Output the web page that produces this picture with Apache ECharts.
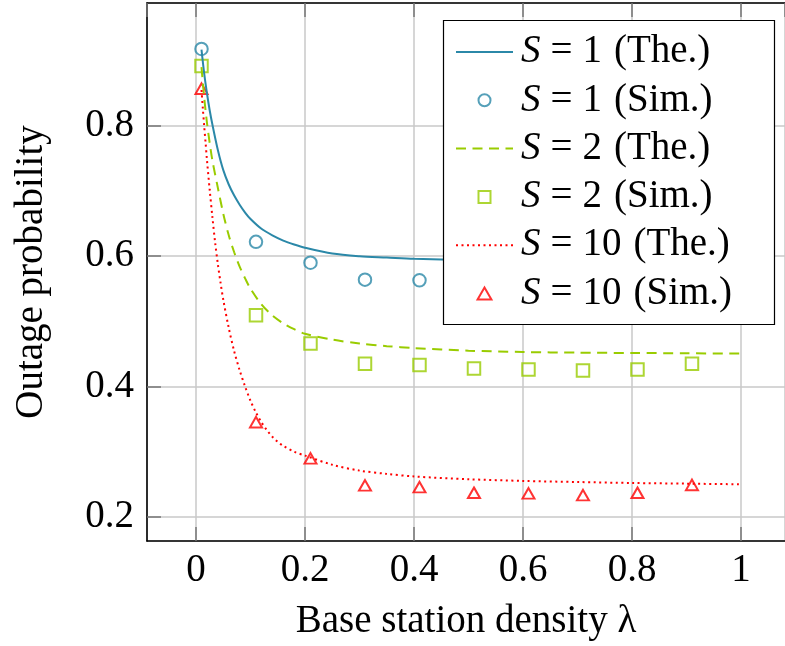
<!DOCTYPE html>
<html>
<head>
<meta charset="utf-8">
<script src="https://cdn.jsdelivr.net/npm/echarts@6/dist/echarts.min.js"></script>
<style>
html,body{margin:0;padding:0;background:#fff;}
#chart{width:785px;height:646px;}
</style>
</head>
<body>
<div id="chart"></div>
<script>
// ---- data ----
const seriesNames = ['S = 1 (The.)', 'S = 1 (Sim.)', 'S = 2 (The.)', 'S = 2 (Sim.)', 'S = 10 (The.)', 'S = 10 (Sim.)'];

const theoryS1X = [0.01, 0.015, 0.02, 0.025, 0.03, 0.04, 0.05, 0.06, 0.07, 0.08, 0.09, 0.1, 0.12, 0.14, 0.16, 0.18, 0.2, 0.25, 0.3, 0.35, 0.4, 0.5, 0.6, 0.7, 0.8, 0.9, 1.0];
const theoryS1Y = [0.917, 0.880, 0.850, 0.824, 0.802, 0.763, 0.732, 0.710, 0.693, 0.679, 0.667, 0.657, 0.642, 0.632, 0.624, 0.618, 0.613, 0.604, 0.600, 0.598, 0.596, 0.594, 0.592, 0.591, 0.590, 0.5895, 0.589];

const theoryS2X = [0.01, 0.015, 0.02, 0.025, 0.03, 0.04, 0.05, 0.06, 0.07, 0.08, 0.09, 0.1, 0.12, 0.14, 0.16, 0.18, 0.2, 0.25, 0.3, 0.35, 0.4, 0.5, 0.6, 0.7, 0.8, 0.9, 1.0];
const theoryS2Y = [0.890, 0.843, 0.805, 0.774, 0.747, 0.705, 0.665, 0.632, 0.606, 0.584, 0.566, 0.550, 0.526, 0.509, 0.497, 0.488, 0.481, 0.472, 0.466, 0.462, 0.459, 0.455, 0.453, 0.452, 0.4515, 0.451, 0.4505];

const theoryS10X = [0.01, 0.0125, 0.015, 0.0175, 0.02, 0.025, 0.03, 0.035, 0.04, 0.045, 0.05, 0.06, 0.07, 0.08, 0.09, 0.1, 0.11, 0.12, 0.13, 0.14, 0.15, 0.16, 0.18, 0.2, 0.25, 0.3, 0.35, 0.4, 0.5, 0.6, 0.7, 0.8, 0.9, 1.0];
const theoryS10Y = [0.855, 0.826, 0.799, 0.774, 0.748, 0.702, 0.660, 0.621, 0.588, 0.559, 0.533, 0.490, 0.454, 0.425, 0.400, 0.378, 0.360, 0.345, 0.333, 0.323, 0.315, 0.309, 0.300, 0.294, 0.280, 0.271, 0.266, 0.262, 0.2578, 0.2552, 0.2535, 0.252, 0.251, 0.250];

const simX = [0.01, 0.11, 0.21, 0.31, 0.41, 0.51, 0.61, 0.71, 0.81, 0.91];
const simS1Y = [0.918, 0.622, 0.590, 0.564, 0.563, 0.562, 0.561, 0.560, 0.562, 0.566];
const simS2Y = [0.892, 0.5095, 0.466, 0.435, 0.433, 0.4276, 0.426, 0.4245, 0.426, 0.435];
const simS10Y = [0.857, 0.3453, 0.2897, 0.2483, 0.2457, 0.237, 0.236, 0.2334, 0.237, 0.249];

const xTickValues = [0, 0.2, 0.4, 0.6, 0.8, 1];
const yTickValues = [0.2, 0.4, 0.6, 0.8];
const xAxisTitle = 'Base station density λ';
const yAxisTitle = 'Outage probability';

// ---- styling ----
const BLUE = '#2b88a8', GREEN = '#99cc00', RED = '#ff0000';
const FONT = '"Liberation Serif", "DejaVu Serif", serif';
const FS = 39;
const NOFILL = 'rgba(255,255,255,0)';

function zip(xs, ys) { return xs.map((x, i) => [x, ys[i]]); }

const X_MIN = -0.09, X_MAX = 1.0807, Y_MIN = 0.163, Y_MAX = 0.9885;

const tickStyle = { inside: true, length: 14, lineStyle: { color: '#777', width: 1.5 } };
const frameLine = { show: true, onZero: false, lineStyle: { color: '#000', width: 1.6 } };
const gridLine = { show: true, lineStyle: { color: '#c8c8c8', width: 1.5 } };

const chart = echarts.init(document.getElementById('chart'), null, { renderer: 'canvas' });

const hiddenSymbol = { color: NOFILL, borderColor: NOFILL, borderWidth: 0 };

// legend label: italic S, math-like spacing around '='
function legendLabel(name) {
  const m = name.match(/^S = (\d+) (\(.*\))$/);
  if (!m) return name;
  return '{i|S}{eq|=}{n|' + m[1] + '}{p|' + m[2] + '}';
}
const richBase = { fontFamily: FONT, fontSize: FS, lineHeight: 40, color: '#000' };

const option = {
  animation: false,
  backgroundColor: '#fff',
  textStyle: { fontFamily: FONT },
  grid: { left: 147, top: 3, right: 0, bottom: 104.5, containLabel: false },
  xAxis: [
    {
      type: 'value', min: X_MIN, max: X_MAX, position: 'bottom',
      axisLine: frameLine,
      axisTick: Object.assign({ show: true }, tickStyle),
      splitLine: gridLine,
      axisLabel: {
        show: true, margin: 10, color: '#000', fontFamily: FONT, fontSize: FS,
        showMinLabel: false, showMaxLabel: false,
        formatter: v => (xTickValues.some(t => Math.abs(t - v) < 1e-6) ? String(+v.toFixed(1)) : '')
      },
      name: xAxisTitle, nameLocation: 'middle', nameGap: 61,
      nameTextStyle: { color: '#000', fontFamily: FONT, fontSize: FS }
    },
    {
      type: 'value', min: X_MIN, max: X_MAX, position: 'top',
      axisLine: frameLine,
      axisTick: Object.assign({ show: true }, tickStyle),
      splitLine: { show: false },
      axisLabel: { show: false }
    }
  ],
  yAxis: {
    type: 'value', min: Y_MIN, max: Y_MAX,
    axisLine: frameLine,
    axisTick: Object.assign({ show: true }, tickStyle),
    splitLine: gridLine,
    axisLabel: {
      show: true, margin: 13, color: '#000', fontFamily: FONT, fontSize: FS,
      showMinLabel: false, showMaxLabel: false,
      formatter: v => (yTickValues.some(t => Math.abs(t - v) < 1e-6) ? String(+v.toFixed(1)) : '')
    },
    name: yAxisTitle, nameLocation: 'middle', nameGap: 96,
    nameTextStyle: { color: '#000', fontFamily: FONT, fontSize: FS }
  },
  graphic: [
    {
      type: 'rect', zlevel: 1, z: 1,
      shape: { x: 443.5, y: 20.5, width: 331, height: 304 },
      style: { fill: '#fff', stroke: '#000', lineWidth: 1.2 }
    }
  ],
  legend: {
    orient: 'vertical', left: 455, top: 32, padding: 0,
    itemWidth: 57, itemHeight: 12, itemGap: 8.3,
    selectedMode: false, zlevel: 1, z: 5,
    symbolKeepAspect: true,
    data: [
      { name: seriesNames[0], itemStyle: hiddenSymbol },
      { name: seriesNames[1], icon: 'circle' },
      { name: seriesNames[2], itemStyle: hiddenSymbol },
      { name: seriesNames[3], icon: 'path://M0,0L10,0L10,10L0,10Z' },
      { name: seriesNames[4], itemStyle: hiddenSymbol },
      { name: seriesNames[5], icon: 'path://M5,0L10,8.66L0,8.66Z' }
    ],
    formatter: legendLabel,
    textStyle: {
      color: '#000', fontFamily: FONT, fontSize: FS, lineHeight: 40, padding: [0, 0, 0, 3],
      rich: {
        i: Object.assign({ fontStyle: 'italic', padding: [0, 0, 0, 0] }, richBase),
        eq: Object.assign({ padding: [0, 10, 0, 10] }, richBase),
        n: Object.assign({ padding: [0, 12, 0, 0] }, richBase),
        p: Object.assign({ padding: [0, 0, 0, 0] }, richBase)
      }
    }
  },
  series: [
    {
      name: seriesNames[0], type: 'line', data: zip(theoryS1X, theoryS1Y),
      symbol: 'none', smooth: 0.3,
      lineStyle: { color: BLUE, width: 2 }, itemStyle: { color: BLUE }
    },
    {
      name: seriesNames[1], type: 'scatter', data: zip(simX, simS1Y),
      symbol: 'circle', symbolSize: 12.5,
      itemStyle: { color: NOFILL, borderColor: BLUE, borderWidth: 2 }
    },
    {
      name: seriesNames[2], type: 'line', data: zip(theoryS2X, theoryS2Y),
      symbol: 'none', smooth: 0.3,
      lineStyle: { color: GREEN, width: 2, type: [10, 6.5] }, itemStyle: { color: GREEN }
    },
    {
      name: seriesNames[3], type: 'scatter', data: zip(simX, simS2Y),
      symbol: 'rect', symbolSize: 12.5,
      itemStyle: { color: NOFILL, borderColor: GREEN, borderWidth: 2 }
    },
    {
      name: seriesNames[4], type: 'line', data: zip(theoryS10X, theoryS10Y),
      symbol: 'none', smooth: 0.3,
      lineStyle: { color: RED, width: 2, type: [2, 3.5] }, itemStyle: { color: RED }
    },
    {
      name: seriesNames[5], type: 'scatter', data: zip(simX, simS10Y),
      symbol: 'triangle', symbolSize: [12, 10.5],
      itemStyle: { color: NOFILL, borderColor: RED, borderWidth: 2 }
    }
  ]
};
chart.setOption(option);
</script>
</body>
</html>
